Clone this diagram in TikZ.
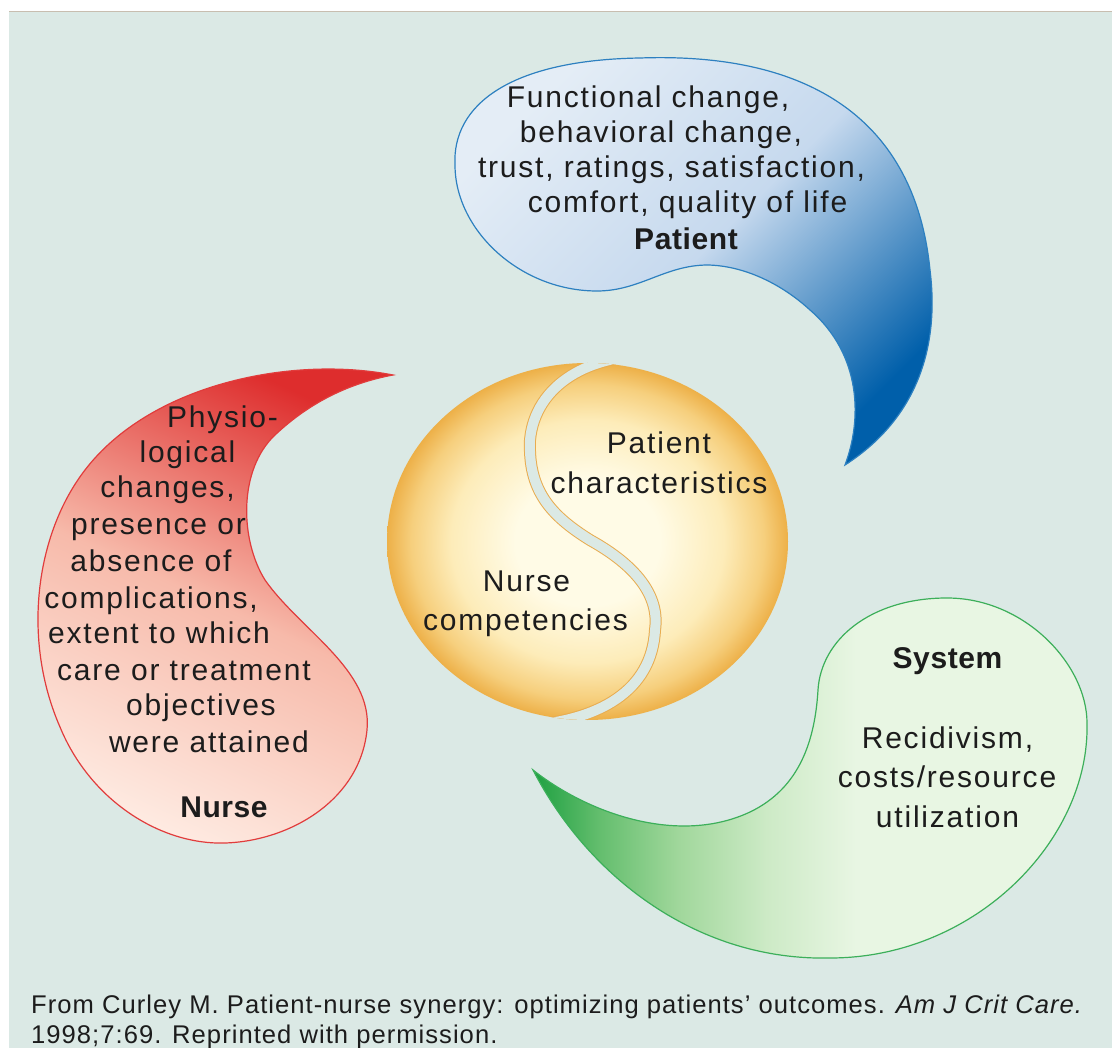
\documentclass[tikz,border=0pt]{standalone}
\usepackage{fontspec}
\setmainfont{Liberation Sans}[LetterSpace=6]
\newfontfamily\headfont{Liberation Sans}[LetterSpace=2]
\newfontfamily\capfont{Liberation Sans}[LetterSpace=4]
\definecolor{bg}{RGB}{219,233,229}
\definecolor{topline}{RGB}{200,190,176}
\definecolor{ink}{RGB}{28,28,28}
\definecolor{blueL}{RGB}{228,237,246}
\definecolor{blueM}{RGB}{198,217,238}
\definecolor{blueD}{RGB}{0,95,170}
\definecolor{blueO}{RGB}{45,128,192}
\definecolor{redT}{RGB}{222,45,45}
\definecolor{redM}{RGB}{247,186,170}
\definecolor{redB}{RGB}{254,234,225}
\definecolor{redO}{RGB}{225,60,60}
\definecolor{gD}{RGB}{30,160,65}
\definecolor{gA}{RGB}{100,190,110}
\definecolor{gB}{RGB}{160,215,155}
\definecolor{gC}{RGB}{205,234,198}
\definecolor{gL}{RGB}{232,246,227}
\definecolor{greenO}{RGB}{60,175,90}
\definecolor{orbC}{RGB}{255,251,230}
\definecolor{orbM}{RGB}{253,236,185}
\definecolor{orbN}{RGB}{246,207,125}
\definecolor{orbE}{RGB}{237,176,72}
\definecolor{orbline}{RGB}{232,172,80}
\pgfdeclareradialshading{orb}{\pgfpoint{0bp}{0bp}}{color(0bp)=(orbC); color(9bp)=(orbC); color(17bp)=(orbM); color(22bp)=(orbN); color(25bp)=(orbE); color(50bp)=(orbE)}
\pgfdeclarehorizontalshading{gsh}{100bp}{color(0bp)=(gD); color(25bp)=(gD); color(31bp)=(gA); color(38bp)=(gB); color(46bp)=(gC); color(54bp)=(gL); color(100bp)=(gL)}
\tikzset{
  txt/.style={inner sep=0pt, anchor=base, text=ink, font=\fontsize{30}{36}\selectfont},
  btxt/.style={inner sep=0pt, anchor=base, text=ink, font=\headfont\bfseries\fontsize{30}{36}\selectfont},
  captxt/.style={inner sep=0pt, anchor=base west, text=ink, font=\capfont\fontsize{25.6}{30}\selectfont},
  blob/.style={line width=1.2pt}
}
\begin{document}
\begin{tikzpicture}[x=1pt,y=-1pt]
\useasboundingbox (0,0) rectangle (1112,1048);
\fill[white] (0,0) rectangle (1112,1048);
\fill[bg] (9,11) rectangle (1112,1048);
\draw[topline, line width=1.5pt] (9,11.5) -- (1112,11.5);

% Patient (blue)
\path[blob, draw=blueO, top color=blueL, bottom color=blueD, middle color=blueM, shading angle=45]
  (845,465) .. controls (862,420) and (862,355) .. (810,310)
  .. controls (785,287) and (748,266) .. (708,265)
  .. controls (665,265) and (640,291) .. (597,291)
  .. controls (520,291) and (455,230) .. (455,165)
  .. controls (452,105) and (510,60) .. (640,58)
  .. controls (810,52) and (915,120) .. (930,270)
  .. controls (940,350) and (915,420) .. (845,465) -- cycle;

% Nurse (red)
\path[blob, draw=redO, top color=redT, bottom color=redB, middle color=redM, shading angle=-25]
  (393,375) .. controls (290,355) and (150,385) .. (85,470)
  .. controls (35,535) and (22,640) .. (60,727)
  .. controls (90,800) and (160,845) .. (225,843)
  .. controls (290,841) and (360,800) .. (367,730)
  .. controls (373,670) and (300,630) .. (265,580)
  .. controls (240,540) and (238,470) .. (275,435)
  .. controls (310,402) and (350,383) .. (393,375) -- cycle;

% System (green)
\path[blob, draw=greenO, shading=gsh]
  (533,770) .. controls (590,815) and (680,845) .. (750,812)
  .. controls (800,788) and (815,740) .. (818,690)
  .. controls (821,640) and (870,598) .. (947,598)
  .. controls (1025,598) and (1087,665) .. (1087,723)
  .. controls (1090,840) and (975,958) .. (830,958)
  .. controls (700,961) and (590,880) .. (533,770) -- cycle;

% central orb
\shade[shading=orb] (587.5,541.5) ellipse [x radius=200.5pt, y radius=178.5pt];
\begin{scope}
\clip (587.5,541.5) ellipse [x radius=200.5pt, y radius=178.5pt];
\draw[draw=orbline, line width=1pt, double=bg, double distance=10pt]
  (660,356) .. controls (590,352) and (535,385) .. (530,440)
  .. controls (528,490) and (550,515) .. (590,540)
  .. controls (635,565) and (660,595) .. (655,630)
  .. controls (652,690) and (600,722) .. (520,726);
\end{scope}

% texts: Patient
\node[txt] (p1) at (648,108) {Functional change,};
\node[txt] (p2) at (661,143) {behavioral change,};
\node[txt] (p3) at (671.5,178) {trust, ratings, satisfaction,};
\node[txt] (p4) at (687.5,213) {comfort, quality of life};
\node[btxt] (p5) at (686,250) {Patient};

% texts: Nurse
\node[txt] (n1) at (222.5,428) {Physio-};
\node[txt] (n2) at (187.5,463) {logical};
\node[txt] (n3) at (167.5,498) {changes,};
\node[txt] (n4) at (158.5,535) {presence or};
\node[txt] (n5) at (151,572) {absence of};
\node[txt] (n6) at (151,608) {complications,};
\node[txt] (n7) at (159,643) {extent to which};
\node[txt] (n8) at (184,680) {care or treatment};
\node[txt] (n9) at (201,715) {objectives};
\node[txt] (n10) at (209,752) {were attained};
\node[btxt] (n11) at (224,817) {Nurse};

% texts: orb
\node[txt] (c1) at (659,454) {Patient};
\node[txt] (c2) at (659,494) {characteristics};
\node[txt] (c3) at (526.5,591) {Nurse};
\node[txt] (c4) at (525.5,630) {competencies};

% texts: System
\node[btxt] (s1) at (947.5,668) {System};
\node[txt] (s2) at (947.5,748) {Recidivism,};
\node[txt] (s3) at (947,787) {costs/resource};
\node[txt] (s4) at (947.5,827) {utilization};

% caption
\node[captxt] (cap1) at (31,1013) {From Curley M. Patient-nurse synergy: optimizing patients’ outcomes. \textit{Am J Crit Care.}};
\node[captxt] (cap2) at (31,1043) {1998;7:69. Reprinted with permission.};
\end{tikzpicture}
\end{document}
